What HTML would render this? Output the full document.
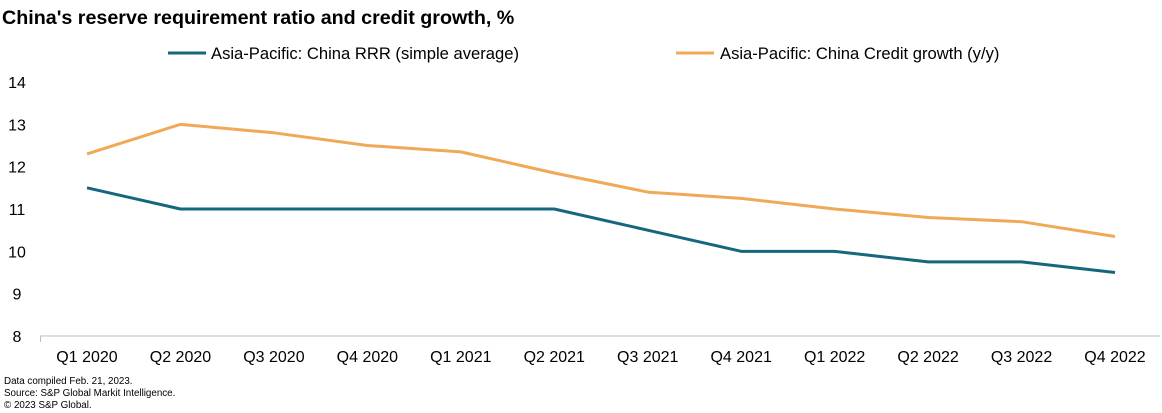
<!DOCTYPE html>
<html><head><meta charset="utf-8"><style>
body{margin:0;background:#fff;font-family:"Liberation Sans",Arial,sans-serif;}
#wrap{position:relative;width:1162px;height:413px;overflow:hidden}
</style></head><body>
<div id="wrap">
<svg id="chart" width="1162" height="413">
<text x="2" y="24" font-size="19.7" font-weight="bold" fill="#000">China's reserve requirement ratio and credit growth, %</text>
<g>
<line x1="168" y1="53" x2="206" y2="53" stroke="#15677e" stroke-width="3"/>
<text x="211" y="59" font-size="16.6" fill="#000">Asia-Pacific: China RRR (simple average)</text>
<line x1="676" y1="53" x2="714" y2="53" stroke="#f0a957" stroke-width="3"/>
<text x="720" y="59" font-size="16.6" fill="#000">Asia-Pacific: China Credit growth (y/y)</text>
</g>
<g id="yaxis"></g>
<g id="xaxis"></g>
<g id="series"></g>
<text x="4" y="384" font-size="9.8">Data compiled Feb. 21, 2023.</text>
<text x="4" y="396" font-size="9.8">Source: S&amp;P Global Markit Intelligence.</text>
<text x="4" y="408" font-size="9.8">© 2023 S&amp;P Global.</text>
</svg>
</div>
<script>
const categories=["Q1 2020","Q2 2020","Q3 2020","Q4 2020","Q1 2021","Q2 2021","Q3 2021","Q4 2021","Q1 2022","Q2 2022","Q3 2022","Q4 2022"];
const rrrValues=[11.5,11,11,11,11,11,10.5,10,10,9.75,9.75,9.5];
const creditValues=[12.3,13.0,12.8,12.5,12.35,11.85,11.4,11.25,11.0,10.8,10.7,10.35];
const yTicks=[8,9,10,11,12,13,14];
const NS="http://www.w3.org/2000/svg";
const y0=336,y1=82,ymin=8,ymax=14,x0=87,x1=1115;
function yS(v){return y0-(v-ymin)/(ymax-ymin)*(y0-y1);}
function xS(i){return x0+i*(x1-x0)/(categories.length-1);}
function mk(t,a,p){const e=document.createElementNS(NS,t);for(const k in a)e.setAttribute(k,a[k]);p.appendChild(e);return e;}
const ya=document.getElementById('yaxis');
yTicks.forEach(v=>{const t=mk('text',{x:17,y:yS(v)+6,'font-size':16,'text-anchor':'middle'},ya);t.textContent=v;

});
const xa=document.getElementById('xaxis');
const ax=mk('line',{x1:40,y1:y0,x2:1160,y2:y0,stroke:'#bfbfbf','stroke-width':1},xa);


const tk=mk('line',{x1:40.5,y1:y0,x2:40.5,y2:y0+6,stroke:'#bfbfbf'},xa);


categories.forEach((c,i)=>{const t=mk('text',{x:xS(i),y:362,'font-size':16,'text-anchor':'middle'},xa);t.textContent=c;

});
const sg=document.getElementById('series');
function line(vals,col,name){const p=mk('polyline',{points:vals.map((v,i)=>xS(i)+','+yS(v)).join(' '),fill:'none',stroke:col,'stroke-width':3,'stroke-linejoin':'round'},sg);

}
line(creditValues,'#f0a957','credit-growth-line');
line(rrrValues,'#15677e','rrr-line');
</script>
</body></html>
